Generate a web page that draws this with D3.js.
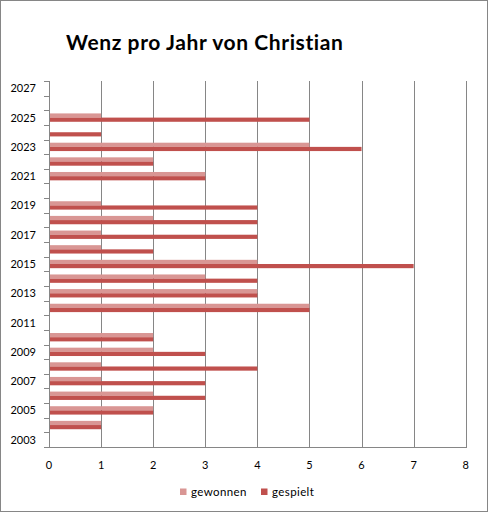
<!DOCTYPE html>
<html>
<head>
<meta charset="utf-8">
<script src="https://cdn.jsdelivr.net/npm/d3@7"></script>
<style>
html,body{margin:0;padding:0;background:#fff;}
svg{display:block;}
text{font-family:Lato,"Open Sans",sans-serif;}
</style>
</head>
<body>
<svg id="chart" width="488" height="513"></svg>
<script>
const years = [2003,2004,2005,2006,2007,2008,2009,2010,2011,2012,2013,2014,2015,2016,2017,2018,2019,2020,2021,2022,2023,2024,2025,2026,2027];
const gewonnen = [0,1,2,2,1,1,2,2,0,5,4,3,4,1,1,2,1,0,3,2,5,0,1,0,0];
const gespielt = [0,1,2,3,3,4,3,2,0,5,4,4,7,2,4,4,4,0,3,2,6,1,5,0,0];
const yTickLabels = [2003,2005,2007,2009,2011,2013,2015,2017,2019,2021,2023,2025,2027];
const xTicks = [0,1,2,3,4,5,6,7,8];
const seriesNames = ["gewonnen","gespielt"];
const seriesColors = ["#D99694","#C0504D"];
const title = "Wenz pro Jahr von Christian";

const svg = d3.select("#chart");
const gridColor = "#868686";

// outer border
svg.append("rect").attr("x",0.5).attr("y",0.5).attr("width",487).attr("height",511)
  .attr("fill","#fff").attr("stroke",gridColor).attr("stroke-width",1);

const plot = {left:49, right:465.7, top:81, bottom:447};

const x = d3.scaleLinear().domain([0,8]).range([plot.left, plot.right]);
const y = d3.scaleBand().domain(years.slice().reverse()).range([plot.top, plot.bottom]).paddingInner(0).paddingOuter(0);
const ySub = d3.scaleBand().domain(seriesNames).range([0, y.bandwidth()]).paddingInner(0).paddingOuter(0.75);

// vertical gridlines
svg.append("g").selectAll("line").data(xTicks).join("line")
  .attr("x1",d=>Math.round(x(d))+0.5).attr("x2",d=>Math.round(x(d))+0.5)
  .attr("y1",plot.top).attr("y2",plot.bottom)
  .attr("stroke",gridColor).attr("stroke-width",1);

// bars
const data = years.map((yr,i)=>({year:yr, values:[gewonnen[i], gespielt[i]]}));
const gBars = svg.append("g");
seriesNames.forEach((s,si)=>{
  gBars.selectAll("rect.s"+si).data(data).join("rect")
    .attr("class","s"+si)
    .attr("x",x(0))
    .attr("y",d=>y(d.year)+ySub(s))
    .attr("width",d=>x(d.values[si])-x(0))
    .attr("height",ySub.bandwidth())
    .attr("fill",seriesColors[si]);
});

// left axis line and ticks
const yAxisX = Math.round(x(0))+0.5;
svg.append("line").attr("x1",yAxisX).attr("x2",yAxisX).attr("y1",plot.top).attr("y2",plot.bottom+0.5)
  .attr("stroke",gridColor);
const boundaries = years.map(yr=>y(yr)).concat([plot.bottom]);
svg.append("g").selectAll("line").data(boundaries).join("line")
  .attr("x1",44).attr("x2",yAxisX)
  .attr("y1",d=>Math.round(d)+0.5).attr("y2",d=>Math.round(d)+0.5)
  .attr("stroke",gridColor);
// bottom axis line
svg.append("line").attr("x1",44).attr("x2",Math.round(x(8))+1)
  .attr("y1",Math.round(plot.bottom)+0.5).attr("y2",Math.round(plot.bottom)+0.5)
  .attr("stroke",gridColor);

// y labels
svg.append("g").selectAll("text").data(yTickLabels).join("text")
  .attr("x",36).attr("y",d=>y(d)+y.bandwidth()/2+4)
  .attr("text-anchor","end").attr("font-size",11).attr("fill","#000")
  .text(d=>d);

// x labels
svg.append("g").selectAll("text").data(xTicks).join("text")
  .attr("x",d=>x(d)).attr("y",469)
  .attr("text-anchor","middle").attr("font-size",11).attr("fill","#000")
  .text(d=>d);

// title
svg.append("text").attr("x",66).attr("y",49.5).attr("font-size",21).attr("font-weight","bold")
  .attr("letter-spacing",0.6).attr("fill","#000").text(title);

// legend
const legendX = [180,261];
seriesNames.forEach((s,i)=>{
  svg.append("rect").attr("x",legendX[i]).attr("y",488.5).attr("width",6.5).attr("height",6.5).attr("fill",seriesColors[i]);
  svg.append("text").attr("x",legendX[i]+11).attr("y",496).attr("font-size",11.5)
    .attr("letter-spacing",0.4).attr("fill","#000").text(s);
});
</script>
</body>
</html>
